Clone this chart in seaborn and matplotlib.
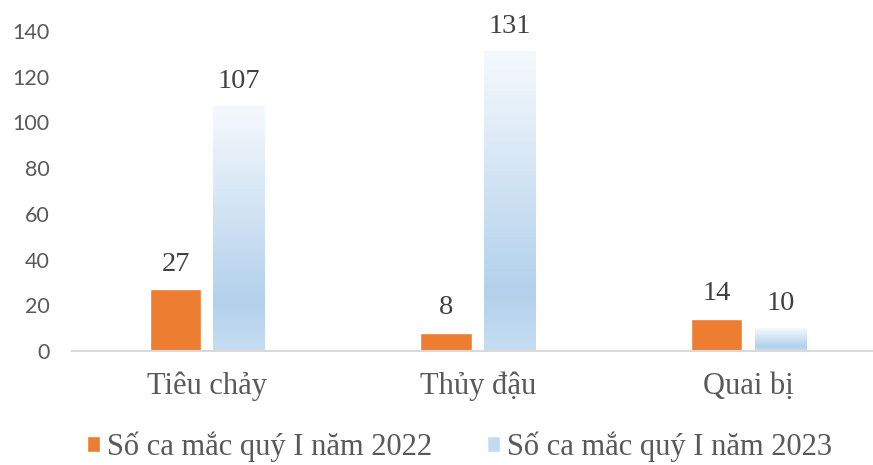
import numpy as np
import pandas as pd
import seaborn as sns
import matplotlib
matplotlib.use("Agg")
import matplotlib.pyplot as plt
from matplotlib.colors import LinearSegmentedColormap
from matplotlib.patches import Patch

diseases = ["Tiêu chảy", "Thủy đậu", "Quai bị"]
series_names = ["Số ca mắc quý I năm 2022", "Số ca mắc quý I năm 2023"]
cases_2022 = [27, 8, 14]
cases_2023 = [107, 131, 10]
y_ticks = [0, 20, 40, 60, 80, 100, 120, 140]

df = pd.DataFrame({
    "disease": diseases * 2,
    "series": [series_names[0]] * len(diseases) + [series_names[1]] * len(diseases),
    "cases": cases_2022 + cases_2023,
})

ORANGE = "#ED7D31"
BLUE = "#C3DBF0"
GREY_TXT = "#595959"
blue_grad = LinearSegmentedColormap.from_list(
    "bluegrad", [(0, "#c6ddf1"), (0.2, "#b3d1ec"), (1, "#f5f9fd")]
)

sns.set_style("white")
plt.rcParams["font.family"] = ["Liberation Serif", "DejaVu Serif"]

fig = plt.figure(figsize=(8.73, 4.65), dpi=100)
ax = fig.add_axes([72 / 873, 114 / 465, 1 - 72 / 873, 320 / 465])
sns.barplot(
    data=df, x="disease", y="cases", hue="series",
    palette=[ORANGE, BLUE], width=0.47, gap=0.19, saturation=1,
    errorbar=None, legend=False, ax=ax,
)

# gradient fill for the 2023 bars
grad = np.linspace(0, 1, 256).reshape(-1, 1)
for bar in ax.containers[1]:
    x0, y0 = bar.get_x(), bar.get_y()
    w, h = bar.get_width(), bar.get_height()
    ax.imshow(grad, cmap=blue_grad, origin="lower", aspect="auto",
              extent=[x0, x0 + w, y0, y0 + h], zorder=bar.get_zorder(),
              interpolation="bicubic")
    bar.set_facecolor("none")

for container, values in zip(ax.containers, [cases_2022, cases_2023]):
    ax.bar_label(container, labels=[str(v) for v in values], padding=9,
                 fontsize=20.5, color="#404040")

ax.set_xlim(-0.5, 2.46)
ax.set_ylim(0, 140)
ax.set_yticks(y_ticks)
ax.set_xlabel("")
ax.set_ylabel("")

sns.despine(ax=ax, left=True)
ax.spines["bottom"].set_color("#d9d9d9")
ax.spines["bottom"].set_linewidth(1.5)
ax.tick_params(axis="both", length=0)
ax.tick_params(axis="y", pad=16)
ax.tick_params(axis="x", pad=15)
for lbl in ax.get_yticklabels():
    lbl.set_family(["Lato", "DejaVu Sans"])
    lbl.set_fontsize(15.5)
    lbl.set_color(GREY_TXT)
for lbl in ax.get_xticklabels():
    lbl.set_fontsize(22)
    lbl.set_color(GREY_TXT)

handles = [Patch(facecolor=ORANGE), Patch(facecolor=BLUE)]
fig.legend(handles, series_names, loc="center", bbox_to_anchor=(0.526, 0.039),
           ncol=2, frameon=False, fontsize=22, handlelength=0.45,
           handleheight=0.45, handletextpad=0.2, columnspacing=1.8,
           labelcolor=GREY_TXT)

fig.savefig("out.png", dpi=100)
